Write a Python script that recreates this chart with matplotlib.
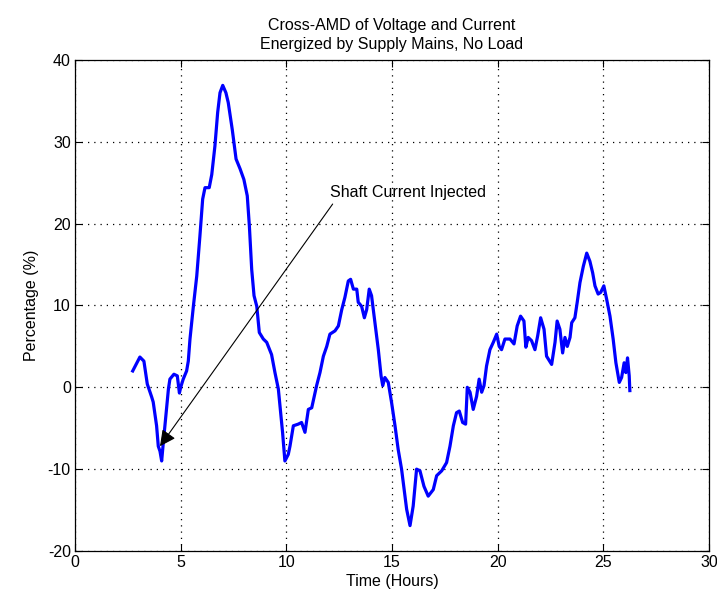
import numpy as np
import matplotlib.pyplot as plt

plt.rcParams['font.family'] = ['Liberation Sans', 'DejaVu Sans']
plt.rcParams['axes.unicode_minus'] = False

# cross-AMD trace, time in hours vs percentage
hours = [2.73, 3.07, 3.26, 3.42, 3.63, 3.70, 3.86, 3.94, 4.02, 4.10, 4.18, 4.30,
         4.42, 4.49, 4.68, 4.84, 4.94, 5.00, 5.12, 5.28, 5.36, 5.44, 5.60, 5.76,
         5.91, 6.04, 6.15, 6.35, 6.47, 6.62, 6.75, 6.86, 6.99, 7.14, 7.25, 7.33,
         7.44, 7.54, 7.62, 7.81, 7.99, 8.15, 8.25, 8.36, 8.47, 8.60, 8.72, 8.91,
         9.07, 9.30, 9.46, 9.62, 9.73, 9.82, 9.93, 10.09, 10.17, 10.33, 10.56, 10.72,
         10.88, 11.04, 11.20, 11.43, 11.59, 11.75, 11.91, 12.06, 12.30, 12.46, 12.62, 12.77,
         12.93, 13.04, 13.17, 13.33, 13.40, 13.56, 13.69, 13.80, 13.92, 14.03, 14.19, 14.35,
         14.48, 14.56, 14.66, 14.82, 14.98, 15.14, 15.29, 15.45, 15.61, 15.69, 15.85, 16.00,
         16.16, 16.32, 16.51, 16.71, 16.95, 17.11, 17.35, 17.58, 17.74, 17.90, 18.05, 18.18,
         18.34, 18.48, 18.56, 18.69, 18.84, 19.00, 19.12, 19.24, 19.35, 19.47, 19.63, 19.79,
         19.95, 20.07, 20.18, 20.34, 20.58, 20.77, 20.92, 21.08, 21.24, 21.33, 21.44, 21.60,
         21.76, 21.89, 22.03, 22.19, 22.31, 22.55, 22.71, 22.81, 22.94, 23.07, 23.18, 23.29,
         23.42, 23.50, 23.65, 23.76, 23.89, 24.05, 24.21, 24.36, 24.49, 24.60, 24.75, 24.87,
         25.02, 25.15, 25.31, 25.46, 25.59, 25.75, 25.86, 25.98, 26.06, 26.14, 26.22, 26.25]
pct = [2.0, 3.7, 3.2, 0.4, -1.2, -1.8, -4.7, -7.2, -7.8, -9.0, -6.7, -3.5,
       -0.2, 1.0, 1.6, 1.4, -0.7, 0.0, 1.0, 2.0, 3.2, 5.9, 9.9, 13.6,
       18.5, 23.0, 24.4, 24.4, 26.0, 29.5, 33.6, 36.0, 36.9, 36.0, 34.8, 33.4,
       31.5, 29.5, 27.9, 26.7, 25.4, 23.4, 19.7, 14.4, 11.2, 9.9, 6.7, 5.9,
       5.5, 4.0, 1.8, -0.2, -3.1, -5.5, -9.0, -8.2, -7.2, -4.7, -4.5, -4.3,
       -5.5, -2.7, -2.5, 0.2, 1.8, 3.8, 5.0, 6.5, 6.9, 7.5, 9.5, 11.0,
       13.0, 13.2, 12.0, 12.0, 10.4, 9.9, 8.5, 9.5, 12.0, 11.2, 7.9, 4.6,
       1.4, 0.2, 1.2, 0.6, -1.9, -4.7, -7.6, -10.0, -13.3, -14.9, -16.9, -14.5,
       -10.0, -10.2, -12.1, -13.3, -12.5, -10.8, -10.2, -9.2, -7.2, -4.7, -3.1, -2.9,
       -4.3, -4.5, 0.0, -0.6, -2.7, -1.1, 1.0, -0.6, 0.2, 2.6, 4.6, 5.5,
       6.5, 5.0, 4.6, 5.9, 5.9, 5.3, 7.5, 8.7, 8.1, 4.9, 6.1, 5.7,
       4.6, 6.3, 8.5, 7.1, 3.8, 2.8, 5.5, 8.1, 7.1, 4.2, 6.1, 5.0,
       6.1, 7.9, 8.5, 10.4, 12.8, 14.8, 16.4, 15.4, 14.0, 12.4, 11.4, 11.6,
       12.4, 10.8, 8.7, 5.9, 3.0, 0.6, 1.2, 3.0, 1.8, 3.6, 1.4, -0.4]

x_ticks = [0, 5, 10, 15, 20, 25, 30]
y_ticks = [-20, -10, 0, 10, 20, 30, 40]

fig = plt.figure(figsize=(7.17, 6.05), dpi=100)
ax = fig.add_axes([0.1046, 0.0893, 0.8844, 0.8115])

ax.plot(hours, pct, color='#0000ff', lw=2.3)

ax.set_xlim(0, 30)
ax.set_ylim(-20, 40)
ax.set_xticks(x_ticks)
ax.set_yticks(y_ticks)
ax.grid(True, color='k', linestyle=(0, (1, 4)), lw=0.9)
ax.tick_params(direction='in', top=True, right=True, length=5, labelsize=11.5, pad=3)
for s in ax.spines.values():
    s.set_linewidth(0.9)

ax.set_xlabel('Time (Hours)', fontsize=11.5, labelpad=3)
ax.set_ylabel('Percentage (%)', fontsize=11.5, labelpad=6)
ax.set_title('Cross-AMD of Voltage and Current\nEnergized by Supply Mains, No Load',
             fontsize=11.5, linespacing=1.35, pad=8)

# annotation arrow pointing at the injection moment
ax.annotate('', xy=(4.02, -7.2), xytext=(12.19, 22.4),
            arrowprops=dict(arrowstyle='-|>', color='k', lw=0.8,
                            mutation_scale=24, shrinkA=0, shrinkB=0))
ax.text(12.06, 23.8, 'Shaft Current Injected', fontsize=11.5, ha='left', va='center')

fig.savefig('out.png', dpi=100)
